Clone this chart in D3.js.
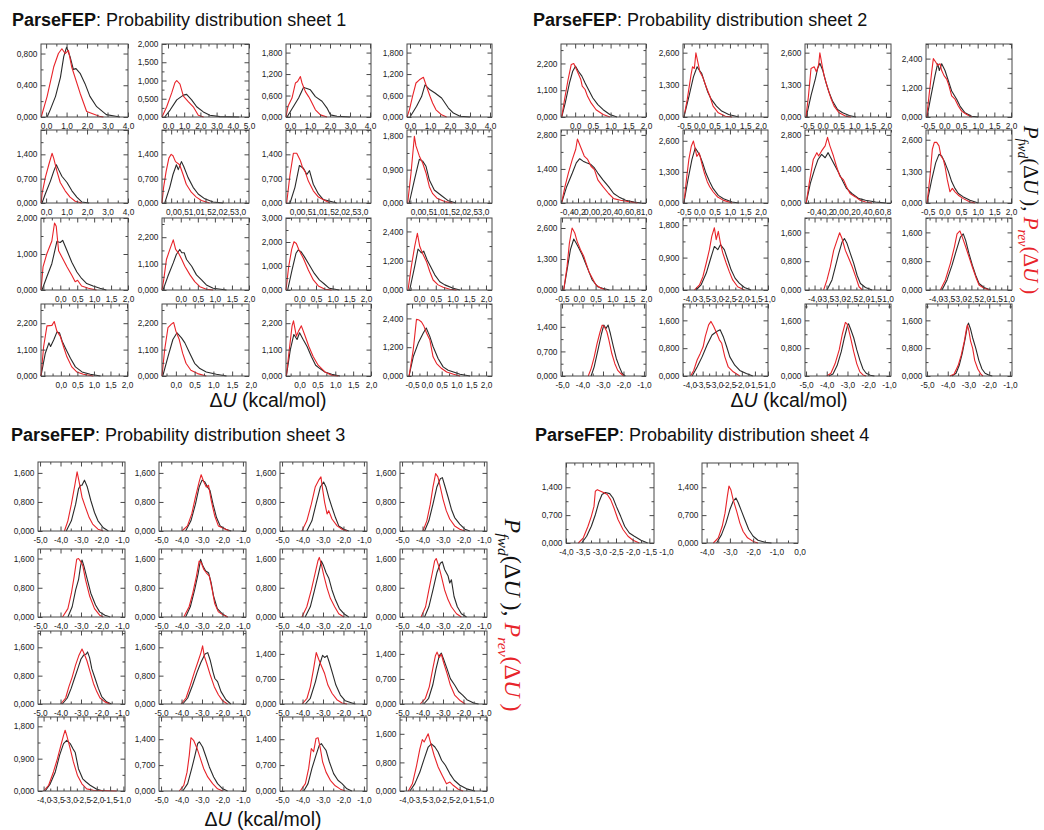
<!DOCTYPE html>
<html>
<head>
<meta charset="utf-8">
<script src="https://cdn.jsdelivr.net/npm/d3@7"></script>
<style>
  body { margin: 0; background: #fff; }
  svg { display: block; font-family: "Liberation Sans", Arial, sans-serif; }
</style>
</head>
<body>
<svg id="chart" width="1044" height="830"></svg>
<script>
// ---- tick label sets (ΔU in kcal/mol) ----
const TICKS_A = [0, 1, 2, 3, 4];
const TICKS_B = [0, 1, 2, 3, 4, 5];
const TICKS_C = [0, 0.5, 1, 1.5, 2, 2.5, 3];
const TICKS_D = [0, 0.5, 1, 1.5, 2];
const TICKS_E = [-0.5, 0, 0.5, 1, 1.5, 2];
const TICKS_F = [-0.4, -0.2, 0, 0.2, 0.4, 0.6, 0.8, 1.0];
const TICKS_G = [-0.4, -0.2, 0, 0.2, 0.4, 0.6, 0.8];
const TICKS_H = [-4, -3.5, -3, -2.5, -2, -1.5, -1];
const TICKS_I = [-5, -4, -3, -2, -1];
const TICKS_J = [-4, -3, -2, -1, 0];

// ---- sheet 1 ----
const sheet1XTicks = [TICKS_A, TICKS_B, TICKS_A, TICKS_A, TICKS_A, TICKS_C, TICKS_C, TICKS_C,
                      TICKS_D, TICKS_D, TICKS_D, TICKS_D, TICKS_D, TICKS_D, TICKS_D, TICKS_E];
const sheet1XDomain = [[-0.25, 4], [-0.37, 5], [-0.2, 4.05], [-0.15, 4.1],
                       [-0.25, 4], [-0.4, 3.4], [-0.4, 3.4], [-0.4, 3.4],
                       [-0.57, 2], [-0.55, 2], [-0.4, 2.15], [-0.36, 2.18],
                       [-0.6, 2.03], [-0.37, 1.95], [-0.38, 2], [-0.67, 2.2]];
const sheet1YMax = [0.92, 2.0, 2.04, 2.04, 2.1, 2.1, 2.1, 1.97, 2.0, 3.0, 3.0, 2.95, 3.0, 3.0, 3.0, 3.0];
const sheet1YTicks = [[0, 0.4, 0.8], [0, 0.5, 1, 1.5, 2], [0, 0.6, 1.2, 1.8], [0, 0.6, 1.2, 1.8],
                      [0, 0.7, 1.4], [0, 0.7, 1.4], [0, 0.7, 1.4], [0, 0.9, 1.8],
                      [0, 1, 2], [0, 1.1, 2.2], [0, 1, 2, 3], [0, 1.2, 2.4],
                      [0, 1.1, 2.2], [0, 1.1, 2.2], [0, 1.1, 2.2], [0, 1.2, 2.4]];
const sheet1Fwd = [
  [[0.05,0],[0.2,0.09],[0.46,0.26],[0.7,0.5],[0.86,0.76],[1.0,0.88],[1.17,0.76],[1.33,0.6],[1.46,0.61],[1.66,0.55],[1.9,0.42],[2.14,0.26],[2.47,0.13],[2.94,0.03],[3.4,0.01],[3.6,0]],
  [[-0.2,0],[0.13,0.19],[0.54,0.47],[0.95,0.6],[1.15,0.62],[1.46,0.47],[1.77,0.28],[2.18,0.14],[2.59,0.05],[3.2,0.01],[4.4,0]],
  [[-0.15,0],[0.18,0.3],[0.43,0.53],[0.68,0.83],[0.77,0.81],[1.02,0.76],[1.27,0.57],[1.6,0.44],[1.85,0.25],[2.02,0.06],[2.35,0.02],[3.0,0]],
  [[0,0],[0.33,0.3],[0.58,0.57],[0.75,0.9],[1.0,0.76],[1.25,0.67],[1.58,0.53],[1.92,0.25],[2.17,0.11],[2.5,0.02],[3.0,0]],
  [[-0.2,0],[-0.04,0.26],[0.21,0.63],[0.37,0.91],[0.5,1.1],[0.61,0.96],[0.77,0.77],[1.02,0.59],[1.26,0.35],[1.5,0.17],[1.74,0.03],[2.1,0]],
  [[-0.28,0],[-0.06,0.45],[0.08,0.82],[0.23,1.1],[0.31,0.96],[0.45,1.19],[0.55,1.05],[0.74,0.73],[0.96,0.45],[1.18,0.26],[1.47,0.12],[1.83,0.03],[2.27,0]],
  [[-0.22,0],[0.0,0.45],[0.2,1.08],[0.38,1.0],[0.53,0.82],[0.65,0.93],[0.82,0.54],[1.05,0.26],[1.27,0.1],[1.57,0.05],[1.87,0]],
  [[-0.3,0],[-0.07,0.62],[0.15,1.18],[0.3,1.13],[0.45,0.99],[0.6,0.62],[0.82,0.35],[1.12,0.21],[1.42,0.07],[1.79,0]],
  [[-0.54,0],[-0.4,0.36],[-0.25,0.73],[-0.1,1.35],[0.0,1.32],[0.07,1.38],[0.2,1.09],[0.34,0.77],[0.49,0.5],[0.63,0.32],[0.78,0.18],[0.97,0.11],[1.17,0.05],[1.36,0]],
  [[-0.52,0],[-0.38,0.56],[-0.22,1.13],[-0.13,1.48],[-0.03,1.69],[0.03,1.55],[0.1,1.55],[0.17,1.27],[0.32,0.99],[0.46,0.63],[0.61,0.42],[0.75,0.21],[0.95,0.07],[1.34,0]],
  [[-0.35,0],[-0.22,0.83],[-0.1,1.53],[-0.03,1.67],[0.05,1.6],[0.15,1.39],[0.3,1.04],[0.45,0.69],[0.6,0.42],[0.75,0.25],[0.9,0.07],[1.2,0]],
  [[-0.28,0],[-0.13,0.97],[-0.03,1.68],[0.07,1.52],[0.14,1.59],[0.24,1.24],[0.34,0.97],[0.47,0.62],[0.62,0.34],[0.77,0.21],[1.02,0.07],[1.22,0]],
  [[-0.6,0],[-0.47,0.95],[-0.36,1.38],[-0.31,1.23],[-0.21,1.52],[-0.12,1.83],[-0.04,1.8],[0.04,1.45],[0.14,1.16],[0.29,0.74],[0.44,0.38],[0.64,0.17],[0.89,0.07],[1.2,0]],
  [[-0.35,0],[-0.21,0.81],[-0.08,1.52],[0.03,1.8],[0.15,1.59],[0.24,1.38],[0.37,0.95],[0.5,0.53],[0.64,0.31],[0.81,0.17],[1.08,0.07],[1.35,0]],
  [[-0.37,0],[-0.26,1.09],[-0.16,1.73],[-0.07,1.52],[0.0,1.8],[0.1,1.52],[0.21,1.23],[0.33,0.81],[0.45,0.45],[0.57,0.31],[0.71,0.17],[0.9,0.07],[1.13,0]],
  [[-0.6,0],[-0.46,0.8],[-0.29,1.37],[-0.12,1.79],[-0.02,2.0],[0.1,1.65],[0.21,1.23],[0.38,0.73],[0.55,0.38],[0.72,0.24],[0.9,0.17],[1.12,0.07],[1.46,0]]
];
const sheet1Rev = [
  [[-0.24,0],[0.05,0.26],[0.37,0.63],[0.6,0.8],[0.77,0.86],[0.93,0.8],[1.09,0.84],[1.25,0.63],[1.66,0.3],[1.98,0.07],[2.6,0.01],[2.8,0]],
  [[-0.37,0],[-0.08,0.28],[0.23,0.66],[0.43,0.94],[0.54,1.0],[0.74,0.9],[0.95,0.57],[1.25,0.42],[1.56,0.28],[1.87,0.05],[2.2,0]],
  [[-0.2,0],[-0.1,0.3],[0.1,0.53],[0.27,0.95],[0.38,0.99],[0.52,1.13],[0.6,0.95],[0.77,0.71],[0.93,0.57],[1.02,0.48],[1.27,0.2],[1.52,0.06],[1.85,0]],
  [[-0.15,0],[-0.03,0.2],[0.13,0.58],[0.3,0.95],[0.47,1.04],[0.67,1.11],[0.83,0.85],[1.0,0.58],[1.13,0.39],[1.3,0.2],[1.58,0.06],[1.83,0]],
  [[-0.24,0],[-0.2,0.26],[-0.04,0.73],[0.13,1.1],[0.29,1.43],[0.37,1.29],[0.53,0.91],[0.69,0.59],[0.93,0.35],[1.17,0.17],[1.42,0.05],[1.74,0]],
  [[-0.4,0],[-0.33,0.45],[-0.22,0.91],[-0.1,1.29],[0.0,1.4],[0.08,1.36],[0.19,1.19],[0.37,1.1],[0.52,0.82],[0.66,0.54],[0.88,0.31],[1.1,0.17],[1.32,0.07],[1.68,0]],
  [[-0.37,0],[-0.22,0.82],[-0.07,1.43],[0.08,1.43],[0.23,1.24],[0.35,1.0],[0.45,0.91],[0.6,0.63],[0.82,0.35],[1.05,0.17],[1.34,0.07],[1.57,0]],
  [[-0.37,0],[-0.22,0.81],[-0.07,1.8],[0.0,1.54],[0.15,1.27],[0.3,1.08],[0.45,0.81],[0.6,0.44],[0.74,0.26],[0.96,0.12],[1.34,0.03],[1.63,0]],
  [[-0.57,0],[-0.51,0.64],[-0.4,1.0],[-0.25,1.36],[-0.17,1.86],[-0.12,1.77],[-0.05,1.09],[0.05,0.91],[0.2,0.64],[0.34,0.41],[0.44,0.23],[0.51,0.27],[0.63,0.11],[0.83,0.05],[1.07,0]],
  [[-0.55,0],[-0.5,0.42],[-0.42,1.27],[-0.32,1.69],[-0.22,2.09],[-0.15,1.69],[-0.07,1.55],[0.03,1.27],[0.12,0.99],[0.27,0.63],[0.41,0.35],[0.56,0.14],[0.75,0.03],[0.95,0]],
  [[-0.4,0],[-0.32,0.97],[-0.23,1.69],[-0.16,2.01],[-0.09,1.94],[-0.01,1.67],[0.12,1.32],[0.27,0.83],[0.42,0.42],[0.57,0.17],[0.77,0.03],[0.97,0]],
  [[-0.33,0],[-0.23,0.97],[-0.13,1.79],[-0.05,2.32],[0.02,1.79],[0.12,1.45],[0.22,1.17],[0.32,0.76],[0.42,0.41],[0.57,0.21],[0.72,0.11],[0.92,0.03],[1.12,0]],
  [[-0.6,0],[-0.52,1.23],[-0.42,2.09],[-0.27,2.11],[-0.2,2.27],[-0.12,1.87],[-0.02,1.66],[0.08,1.23],[0.18,0.81],[0.33,0.38],[0.48,0.17],[0.68,0.07],[0.98,0]],
  [[-0.37,0],[-0.3,1.09],[-0.21,2.02],[-0.12,2.16],[-0.06,2.23],[0.0,1.87],[0.09,1.52],[0.18,0.95],[0.27,0.53],[0.4,0.24],[0.58,0.1],[0.81,0]],
  [[-0.37,0],[-0.3,0.95],[-0.21,2.09],[-0.17,2.3],[-0.09,1.66],[-0.03,1.87],[0.05,2.09],[0.14,1.73],[0.26,1.23],[0.38,0.81],[0.52,0.45],[0.71,0.17],[0.9,0.03],[1.08,0]],
  [[-0.6,0],[-0.46,1.09],[-0.35,2.36],[-0.26,2.33],[-0.18,2.25],[-0.1,2.08],[-0.01,1.79],[0.1,1.51],[0.21,0.8],[0.33,0.52],[0.5,0.31],[0.67,0.17],[0.9,0.07],[1.12,0]]
];

// ---- sheet 2 ----
const sheet2XTicks = [TICKS_D, TICKS_E, TICKS_E, TICKS_E, TICKS_F, TICKS_E, TICKS_G, TICKS_E,
                      TICKS_E, TICKS_H, TICKS_H, TICKS_H, TICKS_I, TICKS_H, TICKS_I, TICKS_I];
const sheet2XDomain = [[-0.4, 2.0], [-0.53, 2.24], [-0.56, 2.16], [-0.55, 2.03],
                       [-0.5, 1.0], [-0.53, 2.24], [-0.55, 0.9], [-0.55, 2.03],
                       [-0.53, 2.0], [-4.25, -1.0], [-4.4, -0.8], [-4.4, -0.8],
                       [-5.05, -0.9], [-4.25, -1.0], [-5.05, -0.9], [-5.05, -0.9]];
const sheet2YMax = [3.0, 2.95, 2.95, 3.0, 3.0, 3.05, 3.0, 3.0, 3.02, 2.0, 2.0, 2.0, 2.05, 2.07, 2.07, 2.07];
const sheet2YTicks = [[0, 1.1, 2.2], [0, 1.3, 2.6], [0, 1.3, 2.6], [0, 1.2, 2.4],
                      [0, 1.4, 2.8], [0, 1.3, 2.6], [0, 1.4, 2.8], [0, 1.3, 2.6],
                      [0, 1.3, 2.6], [0, 0.9, 1.8], [0, 0.8, 1.6], [0, 0.8, 1.6],
                      [0, 0.7, 1.4], [0, 0.8, 1.6], [0, 0.8, 1.6], [0, 0.8, 1.6]];
const sheet2Fwd = [
  [[-0.38,0],[-0.28,0.58],[-0.16,1.4],[-0.07,1.88],[0.01,2.09],[0.09,1.88],[0.19,1.68],[0.28,1.4],[0.4,1.06],[0.5,0.78],[0.64,0.51],[0.79,0.3],[0.98,0.1],[1.18,0]],
  [[-0.5,0],[-0.33,0.86],[-0.19,1.62],[-0.07,2.03],[0.0,1.89],[0.08,1.76],[0.17,1.41],[0.28,1.0],[0.39,0.72],[0.56,0.44],[0.73,0.24],[0.96,0.1],[1.29,0]],
  [[-0.52,0],[-0.37,0.86],[-0.23,1.55],[-0.16,1.96],[-0.09,2.17],[0.0,1.89],[0.1,1.41],[0.2,1.0],[0.31,0.65],[0.47,0.3],[0.63,0.17],[0.84,0.06],[1.05,0]],
  [[-0.52,0],[-0.4,0.87],[-0.28,1.7],[-0.2,2.19],[-0.15,1.91],[-0.08,2.19],[0.02,1.91],[0.12,1.49],[0.22,1.07],[0.37,0.73],[0.47,0.45],[0.62,0.17],[0.82,0.03],[1.02,0]],
  [[-0.49,0],[-0.4,0.67],[-0.3,1.23],[-0.23,1.65],[-0.17,1.82],[-0.11,1.72],[-0.05,1.65],[0.03,1.58],[0.09,1.44],[0.15,1.23],[0.24,0.95],[0.34,0.67],[0.43,0.39],[0.52,0.25],[0.64,0.11],[0.79,0.04],[0.91,0]],
  [[-0.5,0],[-0.37,0.96],[-0.24,1.81],[-0.13,2.3],[-0.06,2.16],[0.03,1.95],[0.11,1.67],[0.22,1.24],[0.34,0.89],[0.45,0.61],[0.62,0.32],[0.79,0.18],[1.07,0.04],[1.29,0]],
  [[-0.53,0],[-0.46,0.81],[-0.39,1.37],[-0.33,1.79],[-0.27,2.0],[-0.21,1.86],[-0.16,2.07],[-0.1,1.79],[-0.04,1.51],[0.02,1.23],[0.09,0.88],[0.15,0.6],[0.24,0.39],[0.36,0.18],[0.47,0.11],[0.64,0.04],[0.81,0]],
  [[-0.52,0],[-0.38,0.95],[-0.26,1.65],[-0.16,2.0],[-0.08,1.93],[0.02,1.65],[0.12,1.3],[0.22,0.88],[0.32,0.6],[0.42,0.39],[0.57,0.25],[0.77,0.11],[1.02,0]],
  [[-0.45,0],[-0.35,0.84],[-0.25,1.69],[-0.15,2.14],[-0.08,1.97],[0.0,1.76],[0.1,1.48],[0.2,1.12],[0.3,0.77],[0.4,0.42],[0.56,0.14],[0.71,0.07],[0.91,0]],
  [[-3.75,0],[-3.56,0.14],[-3.36,0.47],[-3.17,0.93],[-3.05,1.21],[-2.92,1.12],[-2.82,1.26],[-2.67,1.12],[-2.54,0.84],[-2.41,0.56],[-2.26,0.33],[-2.1,0.19],[-1.9,0.07],[-1.65,0]],
  [[-3.48,0],[-3.27,0.28],[-3.13,0.64],[-2.99,1.01],[-2.85,1.33],[-2.75,1.43],[-2.64,1.29],[-2.5,1.01],[-2.36,0.74],[-2.22,0.41],[-2.08,0.18],[-1.87,0.07],[-1.59,0]],
  [[-3.73,0],[-3.52,0.28],[-3.31,0.69],[-3.13,1.1],[-2.96,1.47],[-2.84,1.56],[-2.74,1.38],[-2.6,1.01],[-2.46,0.69],[-2.32,0.41],[-2.18,0.18],[-1.97,0.07],[-1.69,0]],
  [[-3.58,0],[-3.43,0.26],[-3.25,0.73],[-3.07,1.21],[-2.96,1.45],[-2.86,1.35],[-2.75,1.45],[-2.64,1.21],[-2.49,0.83],[-2.35,0.5],[-2.2,0.26],[-2.06,0.07],[-1.91,0]],
  [[-3.9,0],[-3.71,0.26],[-3.52,0.55],[-3.33,0.89],[-3.14,1.18],[-2.96,1.28],[-2.83,1.33],[-2.71,1.13],[-2.58,0.84],[-2.46,0.55],[-2.27,0.31],[-2.08,0.16],[-1.83,0.07],[-1.58,0]],
  [[-3.9,0],[-3.7,0.06],[-3.5,0.3],[-3.3,0.7],[-3.15,1.1],[-3.0,1.45],[-2.95,1.5],[-2.85,1.35],[-2.7,1.1],[-2.55,0.75],[-2.4,0.45],[-2.25,0.2],[-2.1,0.08],[-1.9,0.02],[-1.7,0]],
  [[-3.8,0],[-3.6,0.08],[-3.45,0.3],[-3.3,0.65],[-3.15,1.1],[-3.05,1.45],[-3.0,1.52],[-2.9,1.35],[-2.8,1.1],[-2.65,0.8],[-2.5,0.45],[-2.35,0.2],[-2.2,0.08],[-2.0,0.02],[-1.85,0]]
];
const sheet2Rev = [
  [[-0.38,0],[-0.3,0.72],[-0.2,1.54],[-0.11,2.16],[-0.04,2.2],[0.06,1.88],[0.16,1.54],[0.2,1.27],[0.28,1.13],[0.35,0.85],[0.45,0.58],[0.59,0.3],[0.79,0.1],[0.98,0]],
  [[-0.5,0],[-0.39,0.72],[-0.27,1.69],[-0.22,2.03],[-0.16,1.96],[-0.11,2.59],[-0.05,2.24],[0.02,1.83],[0.11,1.62],[0.23,1.2],[0.34,0.86],[0.45,0.44],[0.62,0.17],[0.85,0.03],[1.07,0]],
  [[-0.53,0],[-0.45,0.86],[-0.37,1.96],[-0.27,2.03],[-0.2,1.83],[-0.13,2.1],[-0.09,2.59],[-0.03,2.17],[0.04,1.69],[0.15,1.2],[0.25,0.79],[0.36,0.44],[0.52,0.17],[0.73,0.03],[0.89,0]],
  [[-0.53,0],[-0.46,0.87],[-0.38,1.84],[-0.33,2.4],[-0.26,2.26],[-0.2,2.12],[-0.13,2.19],[-0.08,1.91],[-0.01,1.7],[0.07,1.56],[0.14,1.28],[0.22,0.87],[0.32,0.73],[0.42,0.45],[0.52,0.24],[0.67,0.1],[0.82,0]],
  [[-0.49,0],[-0.43,0.67],[-0.37,1.23],[-0.3,1.79],[-0.24,2.21],[-0.21,2.63],[-0.15,2.28],[-0.09,1.93],[-0.03,1.79],[0.03,1.51],[0.09,1.37],[0.15,0.95],[0.24,0.67],[0.34,0.39],[0.43,0.18],[0.55,0.11],[0.73,0.04],[0.85,0]],
  [[-0.5,0],[-0.42,0.96],[-0.34,1.81],[-0.26,2.37],[-0.19,2.59],[-0.15,2.37],[-0.08,1.95],[0.0,2.09],[0.08,1.67],[0.17,1.24],[0.26,0.89],[0.34,0.68],[0.45,0.47],[0.6,0.25],[0.79,0.11],[1.07,0]],
  [[-0.53,0],[-0.47,0.95],[-0.41,1.79],[-0.35,2.07],[-0.32,1.93],[-0.27,2.14],[-0.21,2.35],[-0.17,2.7],[-0.13,2.35],[-0.07,1.93],[-0.02,1.51],[0.04,1.09],[0.1,0.95],[0.15,0.67],[0.21,0.39],[0.3,0.25],[0.38,0.11],[0.47,0.04],[0.58,0]],
  [[-0.52,0],[-0.43,1.09],[-0.36,2.21],[-0.3,2.49],[-0.23,2.49],[-0.16,2.35],[-0.1,1.93],[-0.03,1.79],[0.02,1.51],[0.09,0.95],[0.17,0.46],[0.24,0.6],[0.32,0.46],[0.42,0.32],[0.57,0.18],[0.77,0.04],[0.92,0]],
  [[-0.45,0],[-0.35,0.98],[-0.28,1.97],[-0.2,2.6],[-0.12,2.39],[-0.05,2.04],[0.05,1.69],[0.15,1.41],[0.2,1.19],[0.3,0.77],[0.38,0.56],[0.51,0.21],[0.66,0.07],[0.81,0]],
  [[-3.81,0],[-3.62,0.14],[-3.49,0.37],[-3.36,0.75],[-3.24,1.12],[-3.15,1.49],[-3.05,1.73],[-2.98,1.4],[-2.9,1.63],[-2.82,1.31],[-2.73,1.03],[-2.6,0.75],[-2.48,0.51],[-2.35,0.28],[-2.16,0.09],[-1.9,0]],
  [[-3.62,0],[-3.48,0.28],[-3.34,0.64],[-3.2,1.1],[-3.06,1.38],[-2.95,1.59],[-2.85,1.43],[-2.71,1.1],[-2.56,0.87],[-2.42,0.64],[-2.28,0.37],[-2.14,0.09],[-2.0,0]],
  [[-3.8,0],[-3.59,0.28],[-3.38,0.74],[-3.21,1.2],[-3.1,1.56],[-2.98,1.64],[-2.88,1.47],[-2.74,1.2],[-2.6,0.92],[-2.46,0.64],[-2.32,0.37],[-2.18,0.14],[-1.97,0.05],[-1.75,0]],
  [[-3.72,0],[-3.58,0.21],[-3.43,0.54],[-3.29,0.92],[-3.14,1.26],[-3.04,1.45],[-2.93,1.4],[-2.81,1.26],[-2.71,1.02],[-2.57,0.64],[-2.42,0.35],[-2.28,0.16],[-2.13,0.07],[-1.99,0]],
  [[-3.96,0],[-3.84,0.16],[-3.71,0.46],[-3.59,0.65],[-3.48,0.84],[-3.4,1.13],[-3.27,1.47],[-3.18,1.57],[-3.08,1.43],[-2.96,1.23],[-2.86,1.04],[-2.77,0.94],[-2.65,0.55],[-2.52,0.26],[-2.33,0.12],[-2.08,0]],
  [[-4.0,0],[-3.8,0.08],[-3.6,0.35],[-3.4,0.75],[-3.25,1.2],[-3.1,1.54],[-3.02,1.5],[-2.95,1.35],[-2.85,1.1],[-2.7,0.7],[-2.55,0.35],[-2.4,0.12],[-2.25,0.03],[-2.1,0]],
  [[-3.9,0],[-3.7,0.05],[-3.5,0.3],[-3.35,0.6],[-3.2,1.0],[-3.1,1.35],[-3.05,1.47],[-2.98,1.3],[-2.9,1.0],[-2.8,0.8],[-2.7,0.45],[-2.55,0.2],[-2.4,0.05],[-2.3,0]]
];

// ---- sheet 3 ----
const sheet3XTicks = [TICKS_I, TICKS_I, TICKS_I, TICKS_I, TICKS_I, TICKS_I, TICKS_I, TICKS_I,
                      TICKS_I, TICKS_I, TICKS_I, TICKS_I, TICKS_H, TICKS_I, TICKS_I, TICKS_H];
const sheet3XDomain = [[-5.1, -0.85], [-5.1, -0.85], [-5.1, -0.85], [-5.1, -0.85],
                       [-5.1, -0.85], [-5.1, -0.85], [-5.1, -0.85], [-5.1, -0.85],
                       [-5.1, -0.85], [-5.1, -0.85], [-5.1, -0.85], [-5.1, -0.85],
                       [-4.21, -0.94], [-5.1, -0.85], [-5.1, -0.85], [-4.22, -0.98]];
const sheet3YMax = [1.9, 1.9, 1.9, 1.9, 1.86, 1.86, 1.86, 1.86, 2.06, 2.06, 2.04, 2.04, 2.06, 2.0, 2.0, 2.07];
const sheet3YTicks = [[0, 0.8, 1.6], [0, 0.8, 1.6], [0, 0.8, 1.6], [0, 0.8, 1.6],
                      [0, 0.8, 1.6], [0, 0.8, 1.6], [0, 0.8, 1.6], [0, 0.8, 1.6],
                      [0, 0.8, 1.6], [0, 0.8, 1.6], [0, 0.7, 1.4], [0, 0.7, 1.4],
                      [0, 0.9, 1.8], [0, 0.7, 1.4], [0, 0.7, 1.4], [0, 0.8, 1.6]];
const sheet3Fwd = [
  [[-3.72,0],[-3.47,0.28],[-3.26,0.74],[-3.12,1.16],[-3.02,1.26],[-2.95,1.26],[-2.83,1.4],[-2.69,1.21],[-2.52,0.84],[-2.34,0.51],[-2.17,0.28],[-1.91,0.09],[-1.66,0]],
  [[-3.8,0],[-3.54,0.28],[-3.32,0.74],[-3.14,1.21],[-3.0,1.4],[-2.86,1.35],[-2.73,1.21],[-2.61,1.12],[-2.46,0.74],[-2.29,0.37],[-2.11,0.14],[-1.84,0.05],[-1.57,0]],
  [[-3.79,0],[-3.54,0.28],[-3.34,0.74],[-3.13,1.21],[-2.97,1.35],[-2.85,1.21],[-2.72,0.93],[-2.56,0.65],[-2.39,0.37],[-2.23,0.14],[-1.98,0.05],[-1.74,0]],
  [[-3.9,0],[-3.69,0.28],[-3.49,0.74],[-3.3,1.21],[-3.13,1.44],[-3.03,1.47],[-2.92,1.26],[-2.75,0.93],[-2.59,0.6],[-2.43,0.37],[-2.18,0.19],[-1.93,0.05],[-1.69,0]],
  [[-3.64,0],[-3.43,0.28],[-3.26,0.74],[-3.12,1.02],[-3.02,1.4],[-2.95,1.56],[-2.86,1.4],[-2.69,1.02],[-2.52,0.65],[-2.29,0.33],[-2.09,0.14],[-1.83,0.05],[-1.57,0]],
  [[-3.8,0],[-3.57,0.28],[-3.36,0.74],[-3.18,1.21],[-3.07,1.58],[-2.96,1.4],[-2.82,1.26],[-2.68,1.21],[-2.55,0.93],[-2.43,0.56],[-2.25,0.23],[-2.02,0.09],[-1.75,0]],
  [[-3.87,0],[-3.62,0.28],[-3.41,0.74],[-3.21,1.21],[-3.08,1.53],[-2.97,1.4],[-2.85,1.21],[-2.72,1.07],[-2.56,0.74],[-2.39,0.47],[-2.2,0.23],[-1.98,0.09],[-1.74,0]],
  [[-3.9,0],[-3.69,0.28],[-3.49,0.74],[-3.3,1.21],[-3.13,1.47],[-3.03,1.51],[-2.92,1.3],[-2.75,1.12],[-2.67,0.93],[-2.59,1.02],[-2.46,0.56],[-2.3,0.28],[-2.1,0.09],[-1.85,0]],
  [[-3.91,0],[-3.67,0.17],[-3.48,0.44],[-3.32,0.72],[-3.16,0.99],[-3.0,1.27],[-2.87,1.38],[-2.74,1.41],[-2.68,1.47],[-2.58,1.31],[-2.47,0.99],[-2.31,0.72],[-2.15,0.44],[-1.99,0.21],[-1.75,0.06],[-1.51,0]],
  [[-3.94,0],[-3.7,0.17],[-3.46,0.53],[-3.24,0.9],[-3.05,1.18],[-2.85,1.41],[-2.72,1.45],[-2.59,1.22],[-2.46,0.9],[-2.37,0.72],[-2.24,0.63],[-2.07,0.35],[-1.83,0.12],[-1.59,0]],
  [[-3.86,0],[-3.62,0.16],[-3.37,0.62],[-3.18,1.07],[-3.02,1.36],[-2.92,1.3],[-2.8,1.35],[-2.69,1.16],[-2.53,0.85],[-2.37,0.53],[-2.15,0.25],[-1.91,0.09],[-1.59,0.03],[-1.42,0]],
  [[-3.94,0],[-3.7,0.16],[-3.5,0.53],[-3.34,0.98],[-3.18,1.35],[-3.08,1.42],[-2.97,1.25],[-2.8,0.98],[-2.64,0.71],[-2.43,0.53],[-2.24,0.35],[-2.04,0.25],[-1.83,0.12],[-1.5,0.03],[-1.26,0]],
  [[-3.94,0],[-3.75,0.2],[-3.56,0.53],[-3.4,0.99],[-3.25,1.32],[-3.13,1.41],[-3.0,1.32],[-2.9,1.18],[-2.81,1.07],[-2.69,0.62],[-2.53,0.34],[-2.4,0.25],[-2.25,0.16],[-2.0,0.05],[-1.75,0]],
  [[-3.94,0],[-3.7,0.2],[-3.5,0.61],[-3.34,0.97],[-3.21,1.28],[-3.13,1.33],[-2.97,1.19],[-2.8,0.92],[-2.64,0.65],[-2.43,0.38],[-2.24,0.2],[-1.99,0.06],[-1.75,0]],
  [[-3.94,0],[-3.73,0.2],[-3.54,0.61],[-3.34,0.97],[-3.18,1.24],[-3.08,1.28],[-2.97,1.19],[-2.85,1.1],[-2.69,0.79],[-2.48,0.47],[-2.27,0.29],[-2.07,0.2],[-1.83,0.06],[-1.59,0]],
  [[-3.85,0],[-3.67,0.2],[-3.48,0.53],[-3.32,0.9],[-3.17,1.23],[-3.05,1.32],[-2.92,1.23],[-2.8,1.09],[-2.67,0.86],[-2.53,0.72],[-2.36,0.48],[-2.2,0.3],[-1.99,0.16],[-1.74,0.06],[-1.43,0]]
];
const sheet3Rev = [
  [[-3.81,0],[-3.64,0.28],[-3.47,0.74],[-3.29,1.3],[-3.19,1.63],[-3.09,1.35],[-2.95,0.93],[-2.78,0.65],[-2.6,0.37],[-2.43,0.19],[-2.17,0.05],[-1.91,0]],
  [[-3.98,0],[-3.71,0.14],[-3.5,0.47],[-3.32,0.93],[-3.14,1.35],[-3.04,1.55],[-2.91,1.35],[-2.79,1.21],[-2.68,1.26],[-2.55,0.84],[-2.38,0.42],[-2.2,0.14],[-1.93,0.07],[-1.66,0]],
  [[-4.03,0],[-3.79,0.28],[-3.57,0.74],[-3.38,1.21],[-3.21,1.4],[-3.1,1.49],[-3.02,1.16],[-2.92,0.79],[-2.8,0.47],[-2.72,0.56],[-2.56,0.33],[-2.31,0.14],[-2.07,0.05],[-1.82,0]],
  [[-3.98,0],[-3.79,0.28],[-3.62,0.74],[-3.49,1.21],[-3.36,1.58],[-3.25,1.49],[-3.13,1.21],[-3.0,0.88],[-2.84,0.56],[-2.67,0.33],[-2.43,0.14],[-2.18,0.05],[-1.93,0]],
  [[-3.9,0],[-3.64,0.23],[-3.47,0.65],[-3.33,1.12],[-3.21,1.58],[-3.12,1.6],[-3.03,1.53],[-2.91,1.4],[-2.78,1.02],[-2.57,0.56],[-2.34,0.23],[-2.09,0.05],[-1.91,0]],
  [[-3.89,0],[-3.63,0.28],[-3.45,0.65],[-3.27,1.12],[-3.14,1.53],[-3.04,1.49],[-2.91,1.3],[-2.79,1.21],[-2.64,1.12],[-2.5,0.74],[-2.38,0.37],[-2.2,0.14],[-1.93,0.05],[-1.75,0]],
  [[-4.03,0],[-3.79,0.28],[-3.57,0.74],[-3.38,1.21],[-3.25,1.53],[-3.18,1.63],[-3.08,1.44],[-2.97,1.16],[-2.8,0.79],[-2.64,0.51],[-2.43,0.28],[-2.23,0.09],[-1.98,0]],
  [[-4.07,0],[-3.85,0.28],[-3.69,0.74],[-3.52,1.21],[-3.41,1.53],[-3.33,1.6],[-3.21,1.4],[-3.08,1.12],[-2.92,0.74],[-2.75,0.47],[-2.59,0.28],[-2.34,0.09],[-2.1,0]],
  [[-3.99,0],[-3.75,0.17],[-3.59,0.49],[-3.43,0.76],[-3.27,1.09],[-3.11,1.36],[-2.95,1.55],[-2.84,1.41],[-2.71,1.22],[-2.55,0.9],[-2.39,0.58],[-2.23,0.35],[-2.07,0.17],[-1.83,0.06],[-1.59,0]],
  [[-4.02,0],[-3.78,0.17],[-3.57,0.53],[-3.37,0.9],[-3.18,1.22],[-3.05,1.45],[-2.97,1.64],[-2.89,1.36],[-2.76,1.13],[-2.59,0.81],[-2.4,0.49],[-2.2,0.26],[-1.99,0.09],[-1.75,0]],
  [[-4.02,0],[-3.78,0.16],[-3.62,0.48],[-3.46,0.98],[-3.33,1.44],[-3.21,1.25],[-3.08,1.07],[-2.92,0.85],[-2.76,0.53],[-2.56,0.3],[-2.32,0.12],[-2.07,0.03],[-1.83,0]],
  [[-4.11,0],[-3.86,0.16],[-3.67,0.48],[-3.5,0.98],[-3.37,1.35],[-3.29,1.45],[-3.18,1.3],[-3.08,1.39],[-2.97,1.16],[-2.8,0.85],[-2.64,0.53],[-2.43,0.25],[-2.15,0.09],[-1.91,0]],
  [[-4.0,0],[-3.81,0.16],[-3.63,0.53],[-3.48,0.9],[-3.35,1.27],[-3.25,1.55],[-3.19,1.69],[-3.13,1.55],[-3.0,1.18],[-2.88,0.81],[-2.73,0.44],[-2.56,0.2],[-2.38,0.06],[-2.13,0.02],[-1.25,0]],
  [[-4.11,0],[-3.89,0.15],[-3.73,0.51],[-3.62,0.97],[-3.54,1.44],[-3.41,1.37],[-3.24,1.15],[-3.08,0.88],[-2.92,0.61],[-2.72,0.38],[-2.48,0.2],[-2.24,0.06],[-1.99,0]],
  [[-4.11,0],[-3.86,0.2],[-3.7,0.61],[-3.57,1.15],[-3.46,1.06],[-3.34,1.42],[-3.24,1.44],[-3.13,1.15],[-3.02,0.79],[-2.85,0.51],[-2.64,0.29],[-2.4,0.14],[-2.15,0.05],[-1.91,0]],
  [[-3.91,0],[-3.76,0.2],[-3.6,0.72],[-3.48,1.18],[-3.39,1.44],[-3.32,1.37],[-3.23,1.51],[-3.17,1.6],[-3.07,1.32],[-2.95,1.0],[-2.8,0.67],[-2.65,0.44],[-2.49,0.2],[-2.36,0.25],[-2.24,0.16],[-2.05,0.05],[-1.87,0]]
];

// ---- sheet 4 ----
const sheet4XTicks = [TICKS_H, TICKS_J];
const sheet4XDomain = [[-4.0, -1.36], [-4.2, -0.07]];
const sheet4YMax = [2.01, 2.01];
const sheet4YTicks = [[0, 0.7, 1.4], [0, 0.7, 1.4]];
const sheet4Fwd = [
  [[-3.53,0],[-3.38,0.17],[-3.24,0.42],[-3.12,0.71],[-3.02,1.01],[-2.92,1.22],[-2.82,1.27],[-2.69,1.24],[-2.59,1.13],[-2.49,0.92],[-2.36,0.67],[-2.24,0.42],[-2.1,0.25],[-1.95,0.17],[-1.75,0.07],[-1.55,0]],
  [[-3.57,0],[-3.36,0.21],[-3.17,0.5],[-3.0,0.84],[-2.86,1.05],[-2.74,1.13],[-2.64,1.01],[-2.5,0.8],[-2.36,0.59],[-2.19,0.34],[-2.0,0.17],[-1.79,0.07],[-1.5,0.02],[-1.21,0]]
];
const sheet4Rev = [
  [[-3.63,0],[-3.48,0.13],[-3.34,0.42],[-3.24,0.67],[-3.16,0.92],[-3.12,1.3],[-3.06,1.34],[-2.96,1.3],[-2.86,1.26],[-2.76,1.22],[-2.66,1.09],[-2.56,0.88],[-2.44,0.59],[-2.29,0.34],[-2.14,0.17],[-1.99,0.07],[-1.8,0]],
  [[-3.71,0],[-3.5,0.13],[-3.33,0.42],[-3.21,0.75],[-3.11,1.17],[-3.04,1.43],[-2.96,1.34],[-2.86,1.09],[-2.71,0.8],[-2.57,0.5],[-2.43,0.29],[-2.24,0.13],[-2.0,0.04],[-1.79,0]]
];

// ---- layout ----
const svg = d3.select("#chart");
const FWD_COLOR = "#2a2a2a";
const REV_COLOR = "#e8242a";
const FRAME_COLOR = "#474747";

function fmtX(v) {
  const s = Math.abs(v).toFixed(1).replace(".", ",");
  return (v < -1e-9 ? "-" : "") + s;
}
function fmtY(v) {
  return v.toFixed(3).replace(".", ",");
}
// values start + k*step lying in [lo, hi]
function stepValues(start, step, lo, hi) {
  const out = [];
  const k0 = Math.ceil((lo - start) / step - 1e-6);
  const k1 = Math.floor((hi - start) / step + 1e-6);
  for (let k = k0; k <= k1; k++) out.push(+(start + k * step).toFixed(6));
  return out;
}

function styleAxis(g, color, size) {
  g.attr("font-family", "'Liberation Sans', Arial, sans-serif")
   .attr("font-size", size)
   .attr("color", color);
  g.select(".domain").remove();
}

function drawPanel(box, xd, xt, yMax, yt, fwd, rev) {
  const x = d3.scaleLinear().domain(xd).range([0, box.w]);
  const y = d3.scaleLinear().domain([0, yMax]).range([box.h, 0]);
  const g = svg.append("g").attr("transform", `translate(${box.x},${box.y})`);

  const xs = xt[1] - xt[0], ys = yt[1] - yt[0];
  const xMaj = stepValues(xt[0], xs, xd[0], xd[1]);
  const xMin = stepValues(xt[0] + xs / 2, xs, xd[0], xd[1]);
  const yMaj = stepValues(0, ys, 0, yMax);
  const yMin = stepValues(ys / 2, ys, 0, yMax);

  const line = d3.line().x(d => x(d[0])).y(d => y(d[1]));
  g.append("path").datum(fwd).attr("d", line)
    .attr("fill", "none").attr("stroke", FWD_COLOR).attr("stroke-width", 1.1)
    .attr("stroke-linejoin", "round");
  g.append("path").datum(rev).attr("d", line)
    .attr("fill", "none").attr("stroke", REV_COLOR).attr("stroke-width", 1.1)
    .attr("stroke-linejoin", "round");

  g.append("rect").attr("width", box.w).attr("height", box.h)
    .attr("fill", "none").attr("stroke", FRAME_COLOR).attr("stroke-width", 1);

  // inward major/minor ticks on all four sides
  const sides = [
    [() => d3.axisBottom(x), `translate(0,${box.h})`, xMaj, xMin],
    [() => d3.axisTop(x), "translate(0,0)", xMaj, xMin],
    [() => d3.axisLeft(y), "translate(0,0)", yMaj, yMin],
    [() => d3.axisRight(y), `translate(${box.w},0)`, yMaj, yMin]
  ];
  sides.forEach(([mk, tr, maj, mnr]) => {
    g.append("g").attr("transform", tr)
      .call(mk().tickValues(maj).tickSize(-4.5).tickFormat(""))
      .call(a => styleAxis(a, FRAME_COLOR, 8));
    g.append("g").attr("transform", tr)
      .call(mk().tickValues(mnr).tickSize(-2.5).tickFormat(""))
      .call(a => styleAxis(a, FRAME_COLOR, 8));
  });

  // tick labels
  g.append("g").attr("transform", `translate(0,${box.h})`)
    .call(d3.axisBottom(x).tickValues(xt).tickSize(0).tickPadding(6.3).tickFormat(fmtX))
    .call(a => styleAxis(a, "#222", 8.3));
  g.append("g")
    .call(d3.axisLeft(y).tickValues(yt).tickSize(0).tickPadding(3.6).tickFormat(fmtY))
    .call(a => styleAxis(a, "#222", 8.3));
}

function drawSheet(boxes, xd, xt, ymax, yt, fwd, rev) {
  boxes.forEach((b, i) => drawPanel(b, xd[i], xt[i], ymax[i], yt[i], fwd[i], rev[i]));
}

function gridBoxes(colX, colW, rowY, rowH) {
  const out = [];
  rowY.forEach((ry, r) => colX.forEach((cx, c) => out.push({ x: cx, y: ry, w: colW[c], h: rowH[r] })));
  return out;
}

function sheetTitle(x, y, n) {
  const t = svg.append("text").attr("x", x).attr("y", y)
    .attr("font-size", 18).attr("fill", "#111");
  t.append("tspan").attr("font-weight", "bold").text("ParseFEP");
  t.append("tspan").text(": Probability distribution sheet " + n);
}

function xTitle(cx, by) {
  const t = svg.append("text").attr("x", cx).attr("y", by)
    .attr("text-anchor", "middle").attr("font-size", 19.5).attr("fill", "#111");
  t.append("tspan").text("Δ");
  t.append("tspan").attr("font-style", "italic").text("U");
  t.append("tspan").text(" (kcal/mol)");
}

function yTitle(bx, cy, size) {
  const t = svg.append("text")
    .attr("transform", `translate(${bx},${cy}) rotate(90)`)
    .attr("text-anchor", "middle")
    .attr("font-family", "'Liberation Serif', 'Times New Roman', serif")
    .attr("font-size", size);
  const part = (color, sub, tail) => {
    t.append("tspan").attr("fill", color).attr("font-style", "italic").text("P");
    t.append("tspan").attr("fill", color).attr("font-style", "italic")
      .attr("font-size", size * 0.65).attr("dy", size * 0.28).text(sub);
    t.append("tspan").attr("fill", color).attr("dy", -size * 0.28).text("(Δ");
    t.append("tspan").attr("fill", color).attr("font-style", "italic").text("U");
    t.append("tspan").attr("fill", color).text(tail);
  };
  part("#111", "fwd", " ), ");
  part(REV_COLOR, "rev", " )");
}

// sheet 1
sheetTitle(12, 26, 1);
drawSheet(gridBoxes([41, 162, 286, 407], [87, 87, 85, 85], [44, 130, 218, 304], [73, 73, 72, 72]),
          sheet1XDomain, sheet1XTicks, sheet1YMax, sheet1YTicks, sheet1Fwd, sheet1Rev);
xTitle(268, 407);

// sheet 2
sheetTitle(533, 26, 2);
drawSheet(gridBoxes([561, 683, 805, 926], [85, 85, 86, 86], [44, 130, 218, 304], [73, 73, 72, 72]),
          sheet2XDomain, sheet2XTicks, sheet2YMax, sheet2YTicks, sheet2Fwd, sheet2Rev);
xTitle(789, 407);
yTitle(1024, 210, 21);

// sheet 3
sheetTitle(11, 441, 3);
drawSheet(gridBoxes([38, 159, 280, 400], [87, 87, 87, 87], [462, 549, 631, 717], [69, 68, 73, 74]),
          sheet3XDomain, sheet3XTicks, sheet3YMax, sheet3YTicks, sheet3Fwd, sheet3Rev);
xTitle(263, 826);
yTitle(505, 615, 24);

// sheet 4
sheetTitle(535, 441, 4);
drawSheet([{ x: 566, y: 463, w: 88, h: 80 }, { x: 702, y: 463, w: 96, h: 80 }],
          sheet4XDomain, sheet4XTicks, sheet4YMax, sheet4YTicks, sheet4Fwd, sheet4Rev);
</script>
</body>
</html>
